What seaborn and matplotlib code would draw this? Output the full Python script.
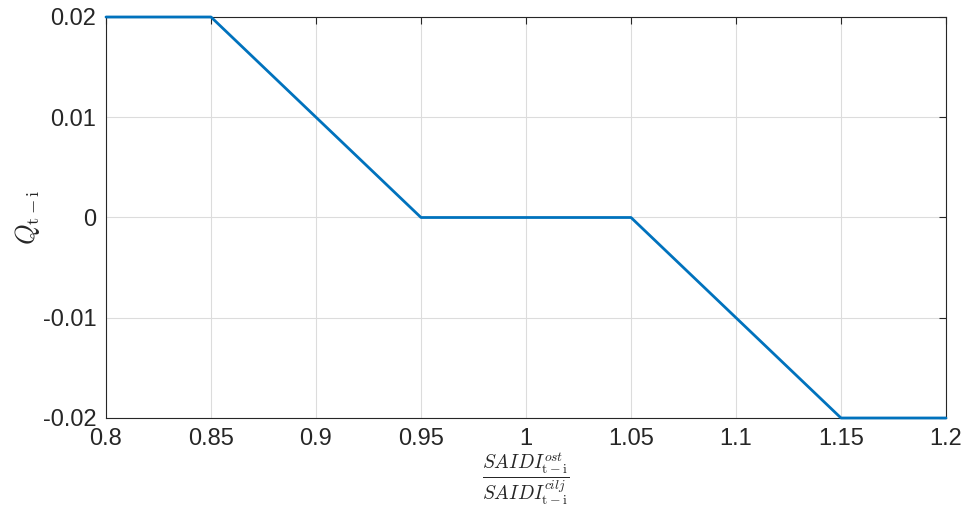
import matplotlib
matplotlib.use("Agg")
import matplotlib.pyplot as plt
import seaborn as sns
import pandas as pd

# Ratio of actual to target SAIDI and the resulting Q factor
ratio = [0.80, 0.85, 0.95, 1.05, 1.15, 1.20]
q_value = [0.02, 0.02, 0.0, 0.0, -0.02, -0.02]

x_ticks = [0.8, 0.85, 0.9, 0.95, 1.0, 1.05, 1.1, 1.15, 1.2]
x_tick_labels = ["0.8", "0.85", "0.9", "0.95", "1", "1.05", "1.1", "1.15", "1.2"]
y_ticks = [-0.02, -0.01, 0.0, 0.01, 0.02]
y_tick_labels = ["-0.02", "-0.01", "0", "0.01", "0.02"]

df = pd.DataFrame({"ratio": ratio, "q": q_value})

sns.set_style("white")
plt.rcParams["font.family"] = ["Liberation Sans", "DejaVu Sans"]
plt.rcParams["mathtext.fontset"] = "cm"

fig = plt.figure(figsize=(9.64, 5.09), dpi=100)
ax = fig.add_axes([106 / 964, 1 - 418 / 509, (946 - 106) / 964, (418 - 17) / 509])

sns.lineplot(data=df, x="ratio", y="q", ax=ax, color="#0072BD", linewidth=2.0,
             clip_on=False, zorder=5)

ax.set_xlim(0.8, 1.2)
ax.set_ylim(-0.02, 0.02)
ax.set_xticks(x_ticks)
ax.set_xticklabels(x_tick_labels)
ax.set_yticks(y_ticks)
ax.set_yticklabels(y_tick_labels)
ax.tick_params(direction="in", length=5, labelsize=17, colors="#262626",
               top=True, right=True, pad=7, width=0.8)
ax.tick_params(axis="x", pad=7)
ax.grid(True, color="#dcdcdc", linewidth=0.8)
for s in ax.spines.values():
    s.set_color("#262626")
    s.set_linewidth(0.8)
    s.set_visible(True)

ax.set_xlabel(r"$\dfrac{SAIDI^{ost}_{\mathrm{t-i}}}{SAIDI^{cilj}_{\mathrm{t-i}}}$",
              fontsize=14, va="center")
ax.xaxis.set_label_coords(0.5, -0.152)
ax.set_ylabel(r"$Q_{\mathrm{t-i}}$", fontsize=19, va="center")
ax.yaxis.set_label_coords(-0.094, 0.5)

fig.savefig("out.png", dpi=100)
